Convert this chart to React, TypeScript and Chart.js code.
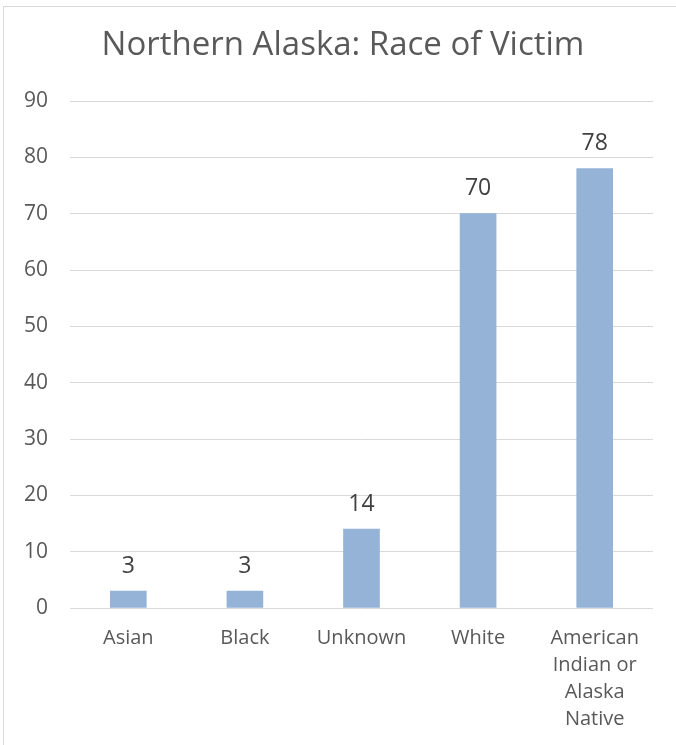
import React, { useEffect, useRef } from "react";
import { Chart, registerables } from "chart.js";

Chart.register(...registerables);

const TITLE = "Northern Alaska: Race of Victim";
const categories: (string | string[])[] = [
  "Asian",
  "Black",
  "Unknown",
  "White",
  ["American", "Indian or", "Alaska", "Native"],
];
const victims = [3, 3, 14, 70, 78];
const yTicks = [0, 10, 20, 30, 40, 50, 60, 70, 80, 90];

const FONT = "'Open Sans', 'Roboto', sans-serif";
const TEXT = "#595959";

const titleAndLabels = {
  id: "titleAndLabels",
  afterDraw(chart: any) {
    const ctx = chart.ctx;
    ctx.save();
    ctx.font = `33px ${FONT}`;
    ctx.fillStyle = TEXT;
    ctx.textAlign = "center";
    ctx.textBaseline = "middle";
    ctx.fillText(TITLE, 343, 46);
    const meta = chart.getDatasetMeta(0);
    ctx.font = `23px ${FONT}`;
    ctx.fillStyle = "#404040";
    meta.data.forEach((bar: any, i: number) => {
      ctx.fillText(String(chart.data.datasets[0].data[i]), bar.x, bar.y - 25);
    });
    ctx.restore();
  },
};

export default function App() {
  const ref = useRef<HTMLCanvasElement>(null);
  useEffect(() => {
    if (!ref.current) return;
    const chart = new Chart(ref.current, {
      type: "bar",
      data: {
        labels: categories,
        datasets: [
          {
            data: victims,
            backgroundColor: "#95B3D7",
            barThickness: 36,
          },
        ],
      },
      options: {
        responsive: false,
        animation: false,
        layout: { padding: { left: 0, right: 23, top: 101, bottom: 0 } },
        plugins: {
          legend: { display: false },
          tooltip: { enabled: false },
          title: { display: false },
        },
        scales: {
          x: {
            grid: { display: false, drawTicks: false },
            border: { display: false },
            ticks: {
              color: TEXT,
              font: { family: FONT, size: 20, lineHeight: "27px" },
              padding: 17,
              maxRotation: 0,
              autoSkip: false,
            },
            afterFit(scale: any) {
              scale.height = 137;
            },
          },
          y: {
            min: 0,
            max: 90,
            afterBuildTicks(scale: any) {
              scale.ticks = yTicks.map((v) => ({ value: v }));
            },
            grid: { color: "#D9D9D9", lineWidth: 1, drawTicks: false },
            border: { display: false },
            ticks: {
              color: TEXT,
              font: { family: FONT, size: 21 },
              padding: 22,
            },
            afterFit(scale: any) {
              scale.width = 70;
            },
          },
        },
      },
      plugins: [titleAndLabels],
    });
    return () => chart.destroy();
  }, []);
  return (
    <div
      style={{
        position: "absolute",
        left: 0,
        top: 0,
        width: 676,
        height: 745,
        overflow: "hidden",
        background: "#fff",
      }}
    >
      <div
        style={{
          position: "absolute",
          left: 3,
          top: 6,
          width: 800,
          height: 900,
          borderLeft: "1px solid #D9D9D9",
          borderTop: "1px solid #D9D9D9",
        }}
      />
      <canvas ref={ref} width={676} height={745} style={{ position: "absolute", left: 0, top: 0 }} />
    </div>
  );
}
